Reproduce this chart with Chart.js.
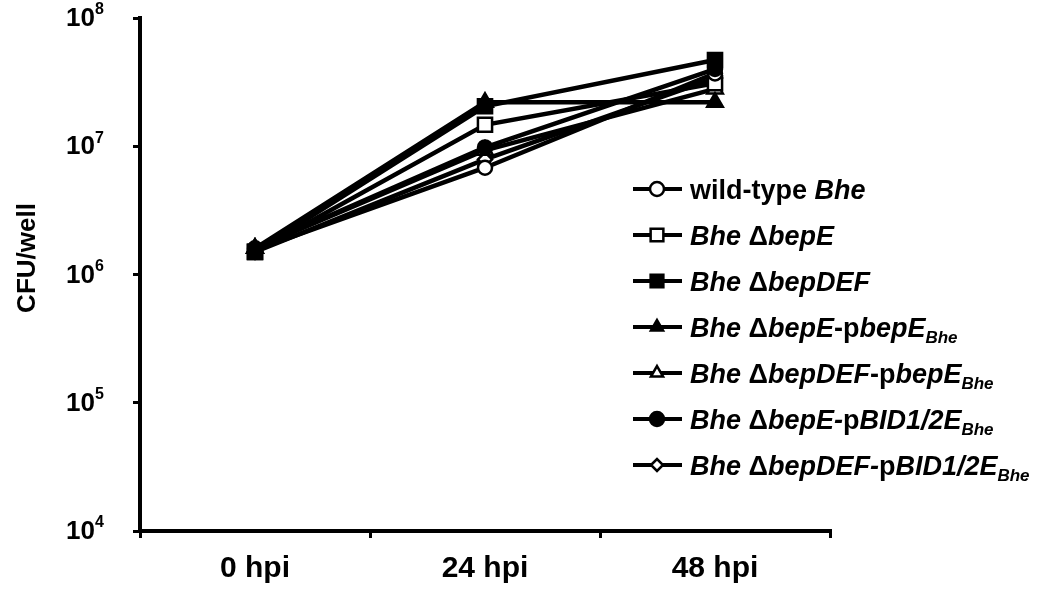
<!doctype html>
<html>
<head>
    <meta charset="UTF-8">
    <title>CFU/well</title>
    <style>
        body { margin: 0; background: #fff; }
        #wrap { position: relative; width: 1045px; height: 597px; }
    </style>
</head>
<body>
<div id="wrap">
    <canvas id="myCanvas" width="1045" height="597"></canvas>
</div>
<script src="https://cdn.jsdelivr.net/npm/chart.js@4.4.1/dist/chart.umd.min.js"></script>
<script>
    // time points
    var timePoints = ['0 hpi', '24 hpi', '48 hpi'];
    // log axis decades
    var yTicks = [1e4, 1e5, 1e6, 1e7, 1e8];

    // CFU per well for each strain
    var wildType        = [1.55e6, 6.8e6, 3.7e7];
    var dBepE           = [1.5e6, 1.47e7, 3.1e7];
    var dBepDEF         = [1.5e6, 2.05e7, 4.7e7];
    var dBepE_pBepE     = [1.6e6, 2.2e7, 2.2e7];
    var dBepDEF_pBepE   = [1.6e6, 9.3e6, 2.8e7];
    var dBepE_pBID      = [1.6e6, 9.8e6, 4.0e7];
    var dBepDEF_pBID    = [1.5e6, 7.9e6, 3.4e7];

    // legend text pieces: 0 = upright, 1 = italic, 2 = italic subscript
    var legendText = [
        [['wild-type ', 0], ['Bhe', 1]],
        [['Bhe', 1], [' \u0394', 0], ['bepE', 1]],
        [['Bhe', 1], [' \u0394', 0], ['bepDEF', 1]],
        [['Bhe', 1], [' \u0394', 0], ['bepE', 1], ['-p', 0], ['bepE', 1], ['Bhe', 2]],
        [['Bhe', 1], [' \u0394', 0], ['bepDEF', 1], ['-p', 0], ['bepE', 1], ['Bhe', 2]],
        [['Bhe', 1], [' \u0394', 0], ['bepE-', 1], ['p', 0], ['BID1/2E', 1], ['Bhe', 2]],
        [['Bhe', 1], [' \u0394', 0], ['bepDEF-', 1], ['p', 0], ['BID1/2E', 1], ['Bhe', 2]]
    ];

    var FONT = '"Liberation Sans", Arial, sans-serif';

    function series(label, data, style, filled, radius) {
        return {
            label: label,
            data: data,
            borderColor: '#000',
            borderWidth: 4.5,
            pointStyle: style,
            pointRadius: radius,
            pointHoverRadius: radius,
            pointBorderWidth: 2.5,
            pointBorderColor: '#000',
            pointBackgroundColor: filled ? '#000' : '#fff',
            order: filled ? 0 : 1, // open symbols sit under the filled ones
            tension: 0
        };
    }

    var datasets = [
        series('wild-type Bhe', wildType, 'circle', false, 7),
        series('Bhe \u0394bepE', dBepE, 'rect', false, 10),
        series('Bhe \u0394bepDEF', dBepDEF, 'rect', true, 10),
        series('Bhe \u0394bepE-pbepE Bhe', dBepE_pBepE, 'triangle', true, 9),
        series('Bhe \u0394bepDEF-pbepE Bhe', dBepDEF_pBepE, 'triangle', false, 9),
        series('Bhe \u0394bepE-pBID1/2E Bhe', dBepE_pBID, 'circle', true, 7),
        series('Bhe \u0394bepDEF-pBID1/2E Bhe', dBepDEF_pBID, 'rectRot', false, 7)
    ];

    function marker(ctx, ds, x, y, r) {
        ctx.save();
        ctx.fillStyle = ds.pointBackgroundColor;
        ctx.strokeStyle = '#000';
        ctx.lineWidth = 2.5;
        if (Chart.helpers && Chart.helpers.drawPoint) {
            Chart.helpers.drawPoint(ctx, { pointStyle: ds.pointStyle, radius: r, borderWidth: 2.5, rotation: 0 }, x, y);
        }
        ctx.restore();
    }

    // y tick labels as 10 with superscript exponent, axis title and the legend
    var decorations = {
        id: 'decorations',
        afterDraw: function(chart) {
            var ctx = chart.ctx;
            var ys = chart.scales.y;
            ctx.save();
            ctx.fillStyle = '#000';
            yTicks.forEach(function(v) {
                var py = ys.getPixelForValue(v);
                ctx.font = 'bold 26px ' + FONT;
                ctx.textAlign = 'right';
                ctx.textBaseline = 'middle';
                ctx.fillText('10', 95, py + 1);
                ctx.font = 'bold 16px ' + FONT;
                ctx.textAlign = 'left';
                ctx.fillText(String(Math.round(Math.log10(v))), 95, py - 8);
            });

            ctx.save();
            ctx.translate(28, 258);
            ctx.rotate(-Math.PI / 2);
            ctx.font = 'bold 26px ' + FONT;
            ctx.textAlign = 'center';
            ctx.textBaseline = 'middle';
            ctx.fillText('CFU/well', 0, 0);
            ctx.restore();

            // legend
            legendText.forEach(function(parts, i) {
                var ds = chart.data.datasets[i];
                var cy = 189 + i * 46;
                ctx.strokeStyle = '#000';
                ctx.lineWidth = 4;
                ctx.beginPath();
                ctx.moveTo(633, cy);
                ctx.lineTo(682, cy);
                ctx.stroke();
                var r = ds.pointStyle === 'rect' ? 9 : (ds.pointStyle === 'rectRot' ? 6 : 7);
                marker(ctx, ds, 657, cy, r);

                var x = 690;
                ctx.textAlign = 'left';
                ctx.textBaseline = 'alphabetic';
                ctx.fillStyle = '#000';
                parts.forEach(function(p) {
                    var dy = 10;
                    if (p[1] === 0) ctx.font = 'bold 27px ' + FONT;
                    else if (p[1] === 1) ctx.font = 'italic bold 27px ' + FONT;
                    else { ctx.font = 'italic bold 17px ' + FONT; dy = 16; }
                    ctx.fillText(p[0], x, cy + dy);
                    x += ctx.measureText(p[0]).width;
                });
            });
            ctx.restore();
        }
    };

    var ctx = document.getElementById('myCanvas').getContext('2d');
    var myChart = new Chart(ctx, {
        type: 'line',
        data: {
            labels: timePoints,
            datasets: datasets
        },
        options: {
            responsive: false,
            animation: false,
            layout: { padding: { top: 18, right: 215, left: 0, bottom: 0 } },
            plugins: {
                legend: { display: false },
                tooltip: { enabled: false }
            },
            scales: {
                x: {
                    offset: true,
                    grid: { offset: true, drawOnChartArea: false, tickLength: 7, color: '#000', lineWidth: 3 },
                    border: { color: '#000', width: 4 },
                    ticks: { color: '#000', padding: 13, font: { family: FONT, size: 30, weight: 'bold' } },
                    afterFit: function(s) { s.height = 66; }
                },
                y: {
                    type: 'logarithmic',
                    min: 1e4,
                    max: 1e8,
                    afterBuildTicks: function(s) {
                        s.ticks = yTicks.map(function(v) { return { value: v }; });
                    },
                    ticks: { display: false },
                    grid: { drawOnChartArea: false, tickLength: 7, color: '#000', lineWidth: 3 },
                    border: { color: '#000', width: 4 },
                    afterFit: function(s) { s.width = 140; }
                }
            }
        },
        plugins: [decorations]
    });
</script>
</body>
</html>
